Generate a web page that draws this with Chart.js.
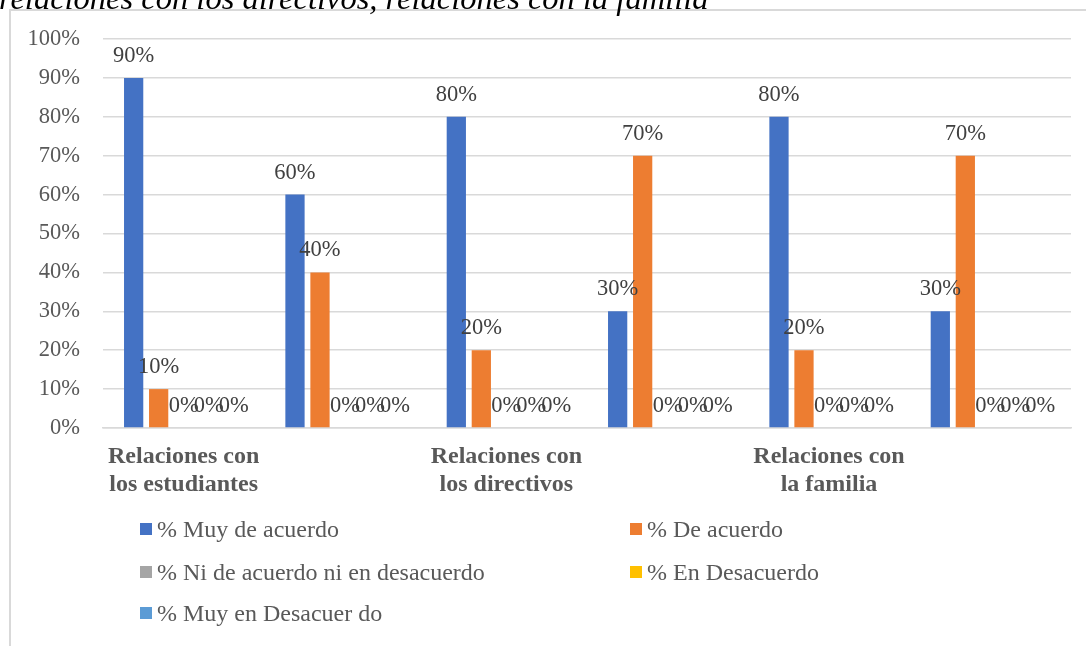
<!DOCTYPE html>
<html>
<head>
<meta charset="utf-8">
<script src="https://cdn.jsdelivr.net/npm/chart.js@4"></script>
<style>
  html, body { margin: 0; padding: 0; width: 1086px; height: 646px; overflow: hidden; background: #fff; }
  #frame { position: absolute; left: 9px; top: 9px; width: 1100px; height: 660px; border: 2px solid #d9d9d9; box-sizing: border-box; }
  #title { position: absolute; left: -1px; top: -18px; font-family: "Liberation Serif", "Times New Roman", serif; font-style: italic; font-size: 32.5px; line-height: 33px; color: #000; white-space: nowrap; z-index: 3; }
  #wrap { position: absolute; left: 0; top: 0; width: 1086px; height: 646px; z-index: 2; }
  .lg { position: absolute; font-family: "Liberation Serif", "Times New Roman", serif; font-size: 24px; color: #595959; white-space: pre; z-index: 4; display: flex; align-items: center; height: 30px; }
  .lg i { display: inline-block; width: 12px; height: 12px; margin-right: 5px; }
</style>
</head>
<body>
<div id="frame"></div>
<div id="title">relaciones con los directivos, relaciones con la familia</div>
<div id="wrap"><canvas id="c" width="1086" height="646"></canvas></div>
<div id="legend"></div>
<script>
const categories = [['Relaciones con', 'los estudiantes'], '', ['Relaciones con', 'los directivos'], '', ['Relaciones con', 'la familia'], ''];
const seriesNames = ['% Muy de acuerdo', '% De acuerdo', '% Ni de acuerdo ni en desacuerdo', '% En Desacuerdo', '% Muy en Desacuer do'];
const muyDeAcuerdo = [90, 60, 80, 30, 80, 30];
const deAcuerdo = [10, 40, 20, 70, 20, 70];
const niDeAcuerdo = [0, 0, 0, 0, 0, 0];
const enDesacuerdo = [0, 0, 0, 0, 0, 0];
const muyEnDesacuerdo = [0, 0, 0, 0, 0, 0];
const yTicks = [0, 10, 20, 30, 40, 50, 60, 70, 80, 90, 100];
const colors = ['#4472C4', '#ED7D31', '#A5A5A5', '#FFC000', '#5B9BD5'];

const seriesValues = [muyDeAcuerdo, deAcuerdo, niDeAcuerdo, enDesacuerdo, muyEnDesacuerdo];
const serif = '"Liberation Serif", "Times New Roman", serif';

const labelPlugin = {
  id: 'valueLabels',
  afterDatasetsDraw(chart) {
    const ctx = chart.ctx;
    ctx.save();
    ctx.font = '22.5px ' + serif;
    ctx.fillStyle = '#404040';
    ctx.textAlign = 'center';
    ctx.textBaseline = 'alphabetic';
    chart.data.datasets.forEach((ds, di) => {
      const meta = chart.getDatasetMeta(di);
      meta.data.forEach((bar, i) => {
        ctx.fillText(ds.data[i] + '%', bar.x, bar.y - 16);
      });
    });
    ctx.restore();
  }
};

const chart = new Chart(document.getElementById('c'), {
  type: 'bar',
  data: {
    labels: categories,
    datasets: seriesNames.map((name, k) => ({
      label: name,
      data: seriesValues[k],
      backgroundColor: colors[k],
      borderWidth: 0,
      barPercentage: 0.77,
      categoryPercentage: 0.775
    }))
  },
  options: {
    responsive: false,
    animation: false,
    layout: { padding: { left: 0, right: 15, top: 39, bottom: 118 } },
    plugins: { legend: { display: false }, tooltip: { enabled: false } },
    scales: {
      x: {
        grid: { display: false, drawTicks: false },
        border: { display: true, color: '#d9d9d9', width: 1.5 },
        ticks: {
          color: '#595959',
          font: { family: serif, size: 24, weight: 'bold', lineHeight: 1.167 },
          padding: 15,
          maxRotation: 0,
          autoSkip: false
        },
        afterFit(scale) { scale.height = 100; }
      },
      y: {
        min: 0,
        max: 100,
        afterBuildTicks(scale) { scale.ticks = yTicks.map(v => ({ value: v })); },
        grid: { color: '#d9d9d9', lineWidth: 1.5, drawTicks: false },
        border: { display: false },
        ticks: {
          color: '#595959',
          font: { family: serif, size: 22.5 },
          padding: 23,
          callback: v => v + '%'
        },
        afterFit(scale) { scale.width = 103; }
      }
    }
  },
  plugins: [labelPlugin]
});

// HTML legend built from the chart's datasets
const legendPos = [
  { left: 140, top: 514 }, { left: 630, top: 514 },
  { left: 140, top: 557 }, { left: 630, top: 557 },
  { left: 140, top: 598 }
];
const legend = document.getElementById('legend');
chart.data.datasets.forEach((ds, k) => {
  const d = document.createElement('div');
  d.className = 'lg';
  d.style.left = legendPos[k].left + 'px';
  d.style.top = legendPos[k].top + 'px';
  const box = document.createElement('i');
  box.style.background = ds.backgroundColor;
  d.appendChild(box);
  const txt = document.createElement('span');
  txt.textContent = ds.label;
  d.appendChild(txt);
  legend.appendChild(d);
});
</script>
</body>
</html>
